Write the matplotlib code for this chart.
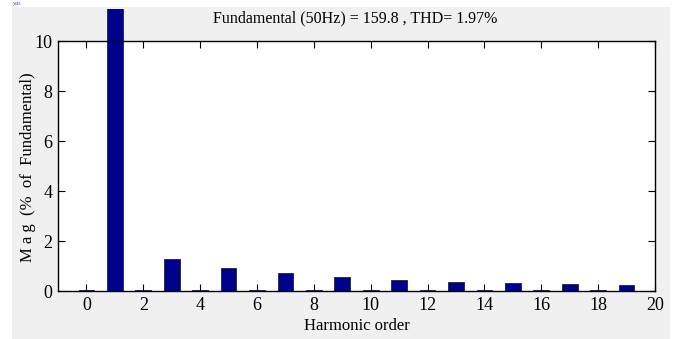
import matplotlib
matplotlib.use("Agg")
import matplotlib.pyplot as plt
from matplotlib.patches import Rectangle
from matplotlib.transforms import Bbox, TransformedBbox

plt.rcParams['font.family'] = ['Liberation Serif', 'DejaVu Serif']

harmonics = list(range(0, 20))
mag = [0.04, 100.0, 0.04, 1.27, 0.04, 0.93, 0.04, 0.71, 0.04, 0.56,
       0.04, 0.44, 0.04, 0.37, 0.04, 0.32, 0.04, 0.28, 0.04, 0.24]
xticks = list(range(0, 21, 2))
yticks = list(range(0, 11, 2))
title = "Fundamental (50Hz) = 159.8 , THD= 1.97%"

W, H = 681, 339
fig = plt.figure(figsize=(W / 100, H / 100), dpi=100)
fig.patch.set_facecolor('white')
bg = Rectangle((12 / W, 0), (670 - 12) / W, 1 - 7 / H,
               transform=fig.transFigure, facecolor='#f0f0f0',
               edgecolor='none', zorder=-10)
fig.patches.append(bg)

ax = fig.add_axes([58 / W, 1 - 291 / H, (655 - 58) / W, (291 - 41) / H])
ax.set_zorder(5)
ax.set_facecolor('white')
bars = ax.bar(harmonics, mag, width=0.55, color='#00008B', edgecolor='#202040',
              linewidth=0.6, zorder=3)
clipbox = TransformedBbox(Bbox([[0, 0], [1, 1 - 9 / H]]), fig.transFigure)
for b in bars:
    b.set_clip_on(True)
    b.set_clip_box(clipbox)

ax.set_xlim(-1, 20)
ax.set_ylim(0, 10)
ax.set_xticks(xticks)
ax.set_yticks(yticks)
ax.tick_params(direction='in', top=True, right=True, length=5, width=0.8,
               labelsize=13, pad=4, colors='black')
for s in ax.spines.values():
    s.set_linewidth(1.0)
    s.set_zorder(4)

ax.set_xlabel("Harmonic order", fontsize=12, labelpad=3)
ax.set_ylabel("M a g  (%  of  Fundamental)", fontsize=12, labelpad=0)
ax.yaxis.set_label_coords((36 - 58) / (655 - 58), (291 - 167) / (291 - 41))
fig.text(355 / W, 1 - 18 / H, title, fontsize=11.5, ha='center', va='center')
fig.text(13 / W, 1 - 4 / H, "ysis", fontsize=4, color='#3050c0', ha='left', va='center')

fig.savefig("out.png", dpi=100)
